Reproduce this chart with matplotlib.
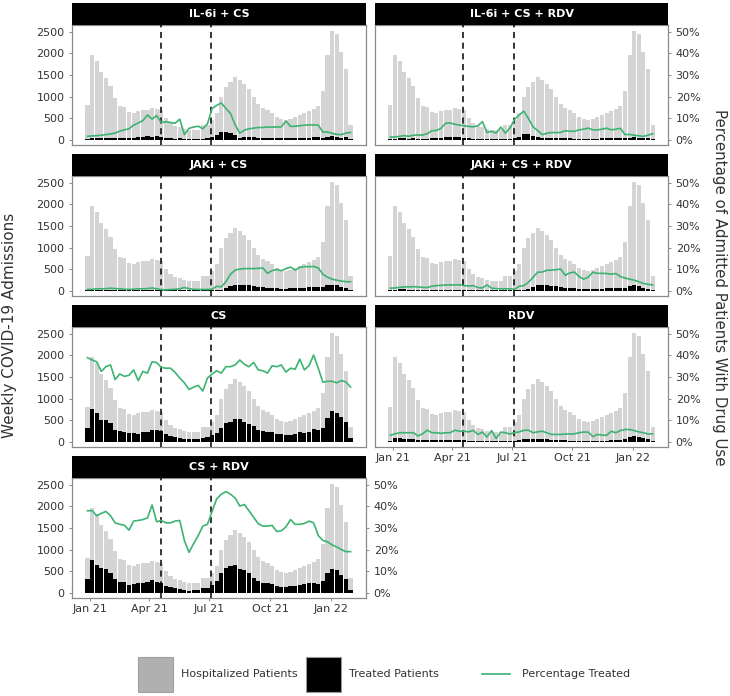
import matplotlib
matplotlib.use("Agg")
import matplotlib.pyplot as plt
import matplotlib.dates as mdates
import pandas as pd
import numpy as np
from matplotlib.patches import Rectangle
from matplotlib.lines import Line2D

# ---------------- data ----------------
weeks = pd.date_range("2020-12-28", periods=58, freq="7D")

hospitalized = [800, 1970, 1818, 1568, 1424, 1242, 962, 773, 758, 644,
                621, 659, 682, 697, 742, 720, 680, 492, 379, 318,
                280, 242, 227, 227, 227, 340, 340, 455, 606, 985,
                1227, 1326, 1455, 1379, 1288, 1174, 985, 833, 742, 682,
                606, 530, 477, 455, 477, 515, 568, 621, 659, 720,
                773, 1136, 1970, 2515, 2462, 2030, 1629, 340]

pct_il6_cs = [1.5, 1.7, 1.8, 2.0, 2.3, 2.6, 3.0, 3.9, 4.5, 5.0,
              6.7, 7.7, 8.8, 11.4, 9.5, 11.1, 7.9, 8.3, 7.9, 7.6,
              9.5, 2.3, 5.2, 5.8, 6.2, 5.0, 7.3, 14.4, 15.9, 17.0,
              14.4, 12.1, 6.8, 3.0, 4.4, 5.0, 5.3, 5.6, 5.6, 5.8,
              5.8, 5.8, 5.9, 8.6, 6.1, 6.2, 6.4, 6.7, 6.8, 6.8,
              6.7, 3.5, 3.5, 2.9, 2.4, 2.3, 3.0, 3.3]

pct_il6_cs_rdv = [1.1, 1.2, 1.5, 1.8, 1.5, 2.0, 2.1, 2.1, 2.7, 4.1,
                  4.2, 5.2, 7.6, 7.7, 7.1, 6.7, 6.4, 6.1, 5.9, 6.4,
                  8.3, 3.3, 3.8, 3.0, 5.8, 3.0, 5.3, 9.4, 11.4, 13.2,
                  9.8, 5.9, 4.2, 2.3, 2.9, 3.3, 3.2, 3.3, 4.1, 3.9,
                  3.8, 4.5, 4.8, 5.3, 4.5, 4.5, 4.8, 5.3, 4.5, 4.8,
                  5.2, 2.3, 2.4, 2.0, 1.7, 1.5, 2.0, 2.7]

pct_jaki_cs = [0.5, 0.6, 0.8, 0.8, 0.9, 1.1, 0.9, 0.8, 0.6, 0.5,
               0.6, 0.8, 0.8, 0.9, 1.2, 0.8, 0.5, 0.3, 0.5, 0.6,
               0.8, 1.4, 0.9, 0.6, 0.5, 0.5, 0.5, 0.6, 2.0, 1.7,
               4.1, 7.6, 9.5, 10.0, 10.2, 10.2, 10.2, 10.3, 10.5, 8.0,
               9.2, 9.8, 9.2, 10.2, 10.9, 9.5, 10.8, 11.1, 11.1, 11.2,
               10.5, 7.6, 6.2, 5.3, 4.8, 4.4, 4.1, 4.1]

pct_jaki_cs_rdv = [1.1, 1.2, 1.5, 1.7, 1.7, 1.8, 1.7, 1.5, 1.4, 2.0,
                   2.3, 2.4, 2.6, 2.6, 2.6, 2.7, 2.3, 2.1, 2.3, 1.4,
                   1.2, 2.6, 1.1, 0.9, 0.8, 0.8, 0.8, 0.6, 2.0, 2.3,
                   3.8, 6.1, 8.5, 8.6, 9.4, 9.5, 9.7, 10.0, 7.1, 8.2,
                   8.6, 6.5, 5.3, 6.2, 8.5, 8.0, 8.0, 7.9, 7.6, 7.9,
                   6.5, 5.8, 5.3, 4.8, 4.1, 3.3, 2.9, 2.6]

pct_cs = [39.0, 37.9, 37.1, 32.6, 34.8, 35.6, 28.8, 31.4, 30.3, 30.8,
          33.3, 28.3, 32.6, 31.8, 37.1, 36.7, 34.4, 34.1, 34.1, 32.1,
          29.5, 27.3, 24.2, 25.3, 26.1, 23.5, 29.5, 31.4, 32.9, 31.8,
          34.8, 34.8, 35.6, 37.9, 35.9, 34.8, 36.8, 33.3, 32.9, 31.8,
          35.2, 34.8, 35.6, 32.3, 34.1, 33.6, 38.3, 33.3, 35.3, 40.2,
          34.1, 27.6, 28.0, 28.0, 27.3, 28.3, 27.7, 25.3]

pct_rdv = [2.9, 3.6, 4.1, 4.1, 4.1, 4.1, 2.6, 3.6, 5.3, 4.1,
           4.1, 3.8, 4.1, 4.1, 5.3, 4.8, 4.8, 4.5, 5.2, 3.3,
           4.4, 2.1, 5.1, 1.4, 4.4, 4.1, 3.5, 4.1, 4.5, 5.2,
           5.3, 4.1, 4.5, 4.8, 4.1, 3.3, 3.3, 3.3, 3.5, 3.5,
           3.6, 4.1, 4.4, 4.4, 2.3, 3.3, 3.0, 2.9, 4.8, 4.1,
           5.1, 5.6, 5.6, 5.1, 4.5, 4.1, 3.5, 3.6]

pct_cs_rdv = [38.0, 38.1, 35.7, 36.8, 37.7, 35.7, 32.4, 31.7, 31.3, 29.0,
              33.2, 33.5, 33.9, 34.7, 40.7, 32.9, 33.5, 32.4, 32.4, 33.2,
              33.5, 24.2, 18.7, 22.7, 26.5, 30.9, 31.7, 37.7, 43.6, 45.7,
              46.9, 45.7, 43.9, 40.2, 40.9, 38.0, 35.0, 32.0, 30.9, 30.9,
              31.2, 28.4, 28.7, 30.5, 33.9, 31.7, 31.7, 32.1, 33.2, 32.4,
              26.5, 24.2, 23.6, 22.1, 21.2, 20.0, 19.0, 19.0]

panel_titles = ["IL-6i + CS", "IL-6i + CS + RDV", "JAKi + CS", "JAKi + CS + RDV",
                "CS", "RDV", "CS + RDV"]
panel_pcts = [pct_il6_cs, pct_il6_cs_rdv, pct_jaki_cs, pct_jaki_cs_rdv,
              pct_cs, pct_rdv, pct_cs_rdv]

guideline_dates = ["2021-04-18", "2021-07-04"]
xtick_dates = ["2021-01-01", "2021-04-01", "2021-07-01", "2021-10-01", "2022-01-01"]
xtick_labels = ["Jan 21", "Apr 21", "Jul 21", "Oct 21", "Jan 22"]
yticks = [0, 500, 1000, 1500, 2000, 2500]
pct_ticks = [0, 10, 20, 30, 40, 50]

legend_labels = ["Hospitalized Patients", "Treated Patients", "Percentage Treated"]

# ---------------- style ----------------
W, H = 730, 696
plt.rcParams['font.family'] = ['DejaVu Sans']
fig = plt.figure(figsize=(W / 100, H / 100), dpi=100)

GRAY_BAR = "#d4d4d4"
GREEN = "#3cb371"
SPINE = "#8a8a8a"
TXT = "#333333"

def fx(px):
    return px / W

def fy(py):
    return 1 - py / H

col_x = [(72, 366), (375, 668)]
row_top = [25 + 151 * r for r in range(4)]
ax_h = 120
strip_h = 22

positions = [(0, 0), (0, 1), (1, 0), (1, 1), (2, 0), (2, 1), (3, 0)]
bottom_panels = {5, 6}
right_axis_panels = {1, 3, 5, 6}
left_axis_panels = {0, 2, 4, 6}

YMAX = 2535
ylim = (-0.05 * YMAX, 1.05 * YMAX)
PSCALE = 50.0  # 1% <-> 50 admissions

dnum = mdates.date2num(weeks.to_pydatetime())
bw = 6.3
x0 = dnum[0] - bw / 2
x1 = dnum[-1] + bw / 2
span = x1 - x0
xlim = (x0 - 0.05 * span, x1 + 0.05 * span)

hosp = np.array(hospitalized, dtype=float)

for k, (title, pct) in enumerate(zip(panel_titles, panel_pcts)):
    r, c = positions[k]
    left, right = col_x[c]
    top = row_top[r]
    ax = fig.add_axes([fx(left), fy(top + ax_h), fx(right - left), ax_h / H])
    pct = np.array(pct, dtype=float)
    treated = hosp * pct / 100.0
    ax.bar(weeks, hosp, width=bw, color=GRAY_BAR, linewidth=0, zorder=1)
    ax.bar(weeks, treated, width=bw, color="black", linewidth=0, zorder=2)
    for d in guideline_dates:
        ax.axvline(pd.Timestamp(d), color="black", linestyle=(0, (4, 3)),
                   linewidth=1.1, zorder=3)
    ax.set_xlim(xlim)
    ax.set_ylim(ylim)
    for s in ax.spines.values():
        s.set_color(SPINE)
        s.set_linewidth(0.9)

    ax2 = ax.twinx()
    ax2.plot(weeks, pct, color=GREEN, linewidth=1.2, zorder=4)
    ax2.set_ylim(ylim[0] / PSCALE, ylim[1] / PSCALE)
    ax2.set_xlim(xlim)
    for s in ax2.spines.values():
        s.set_visible(False)

    # left axis
    ax.set_yticks(yticks)
    if k in left_axis_panels:
        ax.tick_params(axis="y", length=2.5, width=0.7, color=SPINE,
                       labelsize=8, labelcolor=TXT, pad=3)
    else:
        ax.tick_params(axis="y", length=0, labelleft=False)
    # right axis
    ax2.set_yticks(pct_ticks)
    if k in right_axis_panels:
        ax2.set_yticklabels([f"{v}%" for v in pct_ticks])
        ax2.tick_params(axis="y", length=2.5, width=0.7, color=SPINE,
                        labelsize=8, labelcolor=TXT, pad=3)
    else:
        ax2.tick_params(axis="y", length=0, labelright=False)
    # x axis
    ax.set_xticks([pd.Timestamp(d) for d in xtick_dates])
    if k in bottom_panels:
        ax.set_xticklabels(xtick_labels)
        ax.tick_params(axis="x", length=2.5, width=0.7, color=SPINE,
                       labelsize=8, labelcolor=TXT, pad=2)
    else:
        ax.tick_params(axis="x", length=0, labelbottom=False)
    ax2.tick_params(axis="x", length=0, labelbottom=False)

    # strip
    sax = fig.add_axes([fx(left), fy(top), fx(right - left), strip_h / H])
    sax.set_facecolor("black")
    sax.set_xticks([])
    sax.set_yticks([])
    for s in sax.spines.values():
        s.set_visible(False)
    sax.text(0.5, 0.5, title, color="white", fontsize=8, fontweight="bold",
             ha="center", va="center", transform=sax.transAxes)

# axis titles
fig.text(fx(10), fy(325), "Weekly COVID-19 Admissions", rotation=90,
         fontsize=11, color=TXT, ha="center", va="center")
fig.text(fx(720), fy(287), "Percentage of Admitted Patients With Drug Use",
         rotation=270, fontsize=10.8, color=TXT, ha="center", va="center")

# legend
ly = 674
sq = 35
fig.add_artist(Rectangle((fx(138), fy(ly + sq / 2)), sq / W, sq / H,
                         transform=fig.transFigure, facecolor="#b0b0b0",
                         edgecolor="#a0a0a0", linewidth=0.8))
fig.text(fx(181), fy(ly), legend_labels[0], fontsize=8, color=TXT,
         ha="left", va="center")
fig.add_artist(Rectangle((fx(306), fy(ly + sq / 2)), sq / W, sq / H,
                         transform=fig.transFigure, facecolor="black",
                         edgecolor="#999999", linewidth=0.8))
fig.text(fx(349), fy(ly), legend_labels[1], fontsize=8, color=TXT,
         ha="left", va="center")
fig.add_artist(Line2D([fx(482), fx(510)], [fy(ly), fy(ly)],
                      transform=fig.transFigure, color=GREEN, linewidth=1.2))
fig.text(fx(522), fy(ly), legend_labels[2], fontsize=8, color=TXT,
         ha="left", va="center")

fig.savefig("out.png", dpi=100)
